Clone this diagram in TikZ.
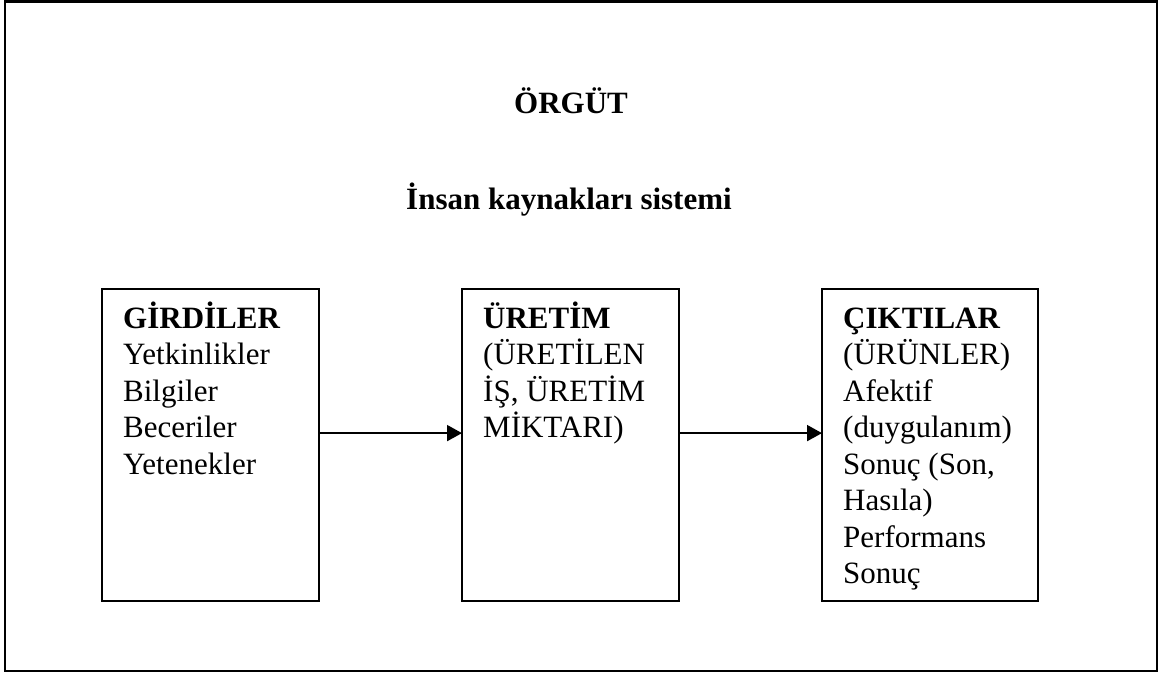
\documentclass[tikz,border=0pt]{standalone}
\usepackage{fontspec}
\setmainfont{Liberation Serif}
\usetikzlibrary{arrows.meta}
\tikzset{
  frame/.style={draw=black, line width=2.2pt},
  stagebox/.style={draw=black, line width=2.2pt, inner sep=0pt,
    minimum width=217pt, minimum height=312pt, anchor=north west},
  stagetext/.style={inner sep=0pt, anchor=north west, align=left,
    font=\fontsize{31}{36.5}\selectfont},
  heading/.style={inner sep=0pt, anchor=base,
    font=\fontsize{31}{36.5}\selectfont\bfseries},
  flow/.style={line width=2pt, -{Triangle[length=15pt,width=16pt]}, shorten >=-1pt},
}
\newcommand{\firstline}{\rule{0pt}{30pt}}
\begin{document}
\begin{tikzpicture}[x=1pt,y=-1pt]
  \useasboundingbox (0,0) rectangle (1168,675);
  % outer frame of the organisation
  \draw[frame] (5,1.5) rectangle (1157,671);

  \node[heading] (org) at (571,113) {ÖRGÜT};
  \node[heading] (hr) at (569,209) {İnsan kaynakları sistemi};

  % the three stages of the system
  \node[stagebox] (girdi) at (101,288) {};
  \node[stagebox] (uretim) at (461,288) {};
  \node[stagebox, minimum width=216pt] (cikti) at (821,288) {};

  \node[stagetext] (girditext) at (123,298) {\firstline\textbf{GİRDİLER}\\Yetkinlikler\\Bilgiler\\Beceriler\\Yetenekler};
  \node[stagetext] (uretimtext) at (483,298) {\firstline\textbf{ÜRETİM}\\(ÜRETİLEN\\İŞ, ÜRETİM\\MİKTARI)};
  \node[stagetext] (ciktitext) at (843,298) {\firstline\textbf{ÇIKTILAR}\\(ÜRÜNLER)\\Afektif\\(duygulanım)\\Sonuç (Son,\\Hasıla)\\Performans\\Sonuç};

  % flows between the stages
  \draw[flow] ([yshift=12pt]girdi.east) -- ([yshift=12pt]uretim.west);
  \draw[flow] ([yshift=12pt]uretim.east) -- ([yshift=12pt]cikti.west);
\end{tikzpicture}
\end{document}
